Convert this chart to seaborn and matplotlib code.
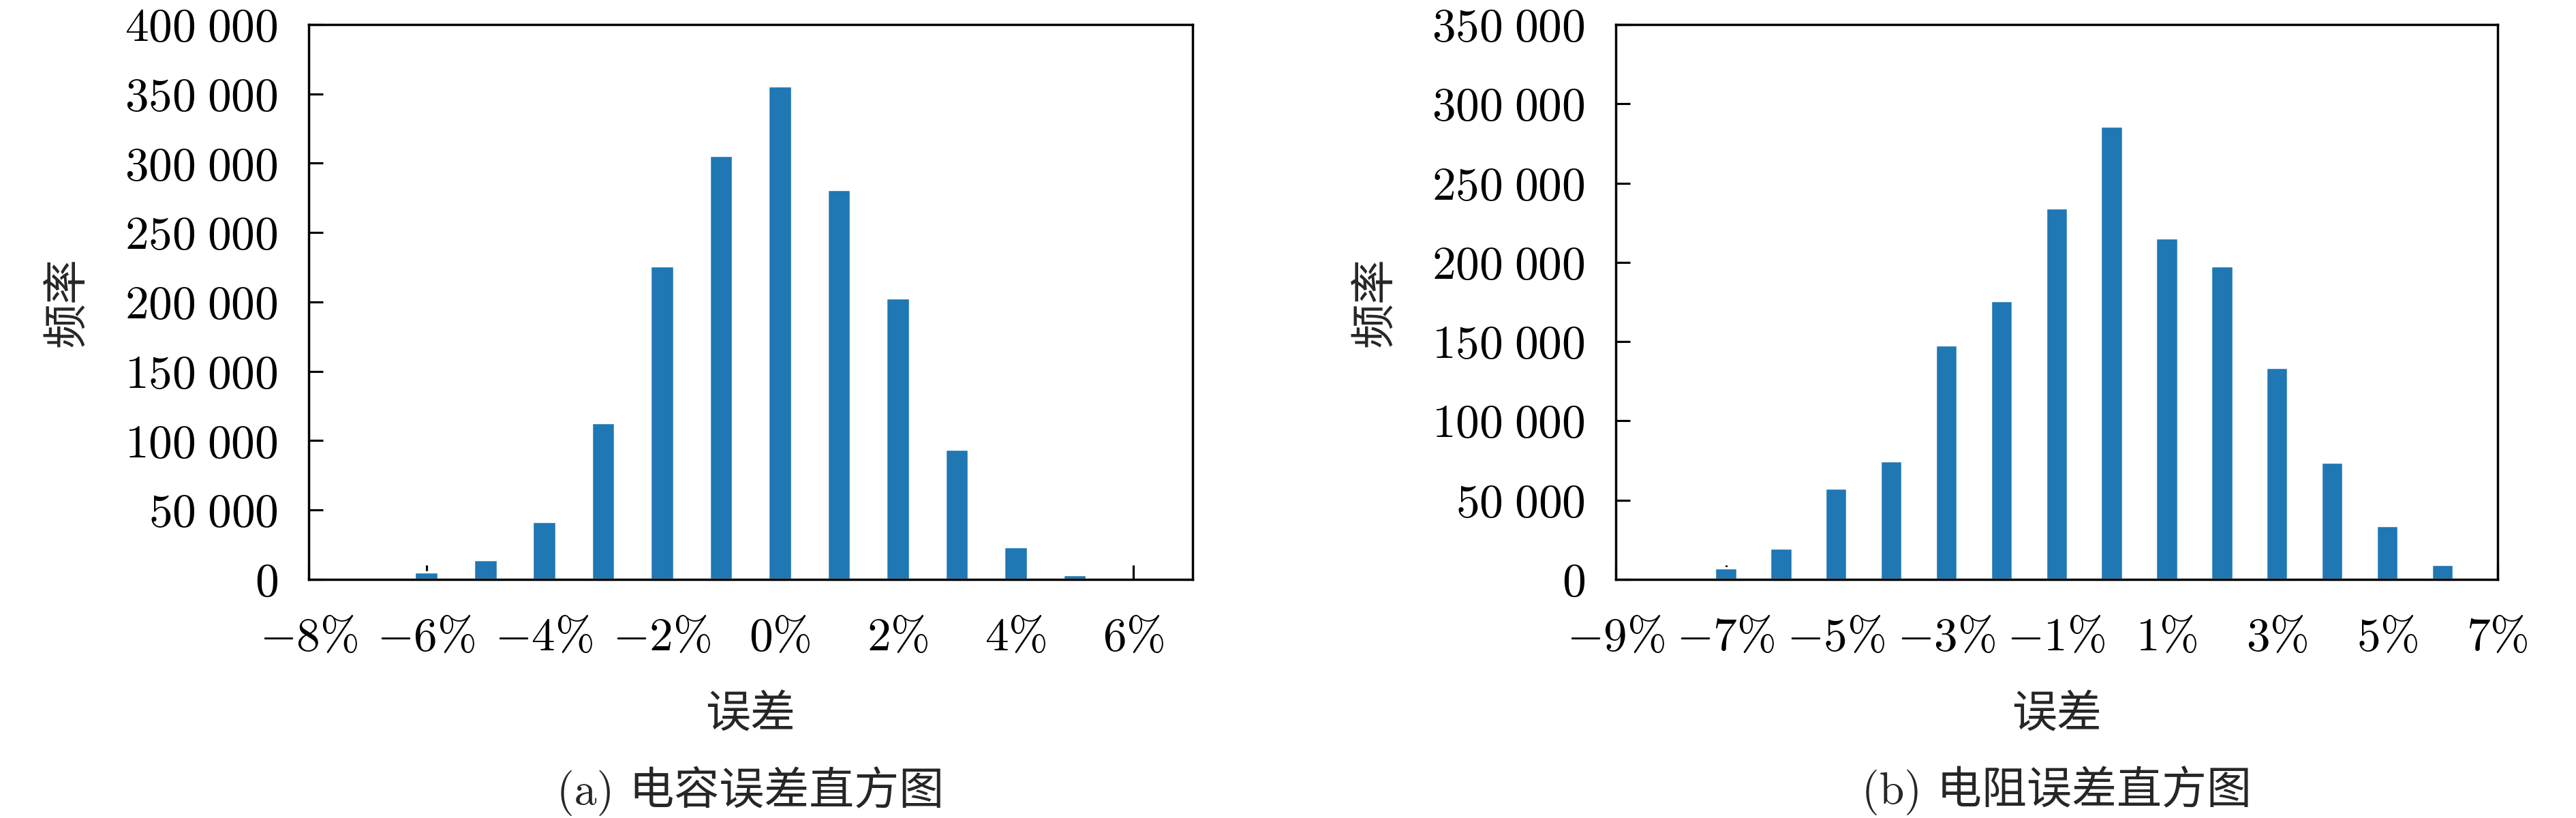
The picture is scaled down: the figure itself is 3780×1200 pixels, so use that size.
import matplotlib
matplotlib.use("Agg")
import matplotlib.pyplot as plt
import seaborn as sns
from matplotlib.ticker import FixedLocator, FuncFormatter

# Data
cap_err = [-7, -6, -5, -4, -3, -2, -1, 0, 1, 2, 3, 4, 5]
cap_freq = [1500, 5600, 14100, 41800, 112900, 226100, 305500, 356000,
            281200, 203000, 94000, 23400, 3400]

res_err = [-7, -6, -5, -4, -3, -2, -1, 0, 1, 2, 3, 4, 5, 6]
res_freq = [7400, 19800, 57600, 74600, 147700, 175900, 234400, 286100,
            215200, 197900, 133900, 73900, 34100, 9400]

cap_xticks = [-8, -6, -4, -2, 0, 2, 4, 6]
res_xticks = [-9, -7, -5, -3, -1, 1, 3, 5, 7]
cap_yticks = [0, 50000, 100000, 150000, 200000, 250000, 300000, 350000, 400000]
res_yticks = [0, 50000, 100000, 150000, 200000, 250000, 300000, 350000]

sns.set_theme(style="ticks")
plt.rcParams['font.family'] = ['cmr10', 'Noto Sans CJK SC', 'DejaVu Sans']
plt.rcParams['mathtext.fontset'] = 'cm'
plt.rcParams['axes.unicode_minus'] = False

fig = plt.figure(figsize=(15.12, 4.8), dpi=250)
ax1 = fig.add_axes([0.1198, 0.2917, 0.3431, 0.6783])
ax2 = fig.add_axes([0.6272, 0.2917, 0.3423, 0.6783])


def pct(v, pos):
    return r'$%d\%%$' % int(round(v))


def thousands(v, pos):
    return '$' + f'{int(round(v)):,}'.replace(',', r'\;') + '$'


panels = [
    (ax1, cap_err, cap_freq, cap_xticks, (-8, 7), cap_yticks, '(a) 电容误差直方图'),
    (ax2, res_err, res_freq, res_xticks, (-9, 7), res_yticks, '(b) 电阻误差直方图'),
]

for ax, xs, ys, xt, xlim, yt, caption in panels:
    sns.barplot(x=xs, y=ys, native_scale=True, width=0.4, color='#1f77b4',
                saturation=1, ax=ax)
    ax.set_xlim(*xlim)
    ax.set_ylim(yt[0], yt[-1])
    ax.xaxis.set_major_locator(FixedLocator(xt))
    ax.yaxis.set_major_locator(FixedLocator(yt))
    ax.xaxis.set_major_formatter(FuncFormatter(pct))
    ax.yaxis.set_major_formatter(FuncFormatter(thousands))
    ax.tick_params(direction='in', length=6, width=0.9, labelsize=20,
                   color='black', labelcolor='black')
    ax.tick_params(axis='x', pad=16)
    ax.tick_params(axis='y', pad=13)
    for sp in ax.spines.values():
        sp.set_visible(True)
        sp.set_color('black')
        sp.set_linewidth(1.0)

    ax.set_xlabel('误差', fontsize=19, va='center')
    ax.xaxis.set_label_coords(0.5, -0.2445)
    ax.set_ylabel('频率', fontsize=19, va='center')
    ax.yaxis.set_label_coords(-0.2714, 0.5)
    ax.text(0.5, -0.381, caption, transform=ax.transAxes, ha='center',
            va='center', fontsize=19)

plt.savefig('out.png', dpi=250)
